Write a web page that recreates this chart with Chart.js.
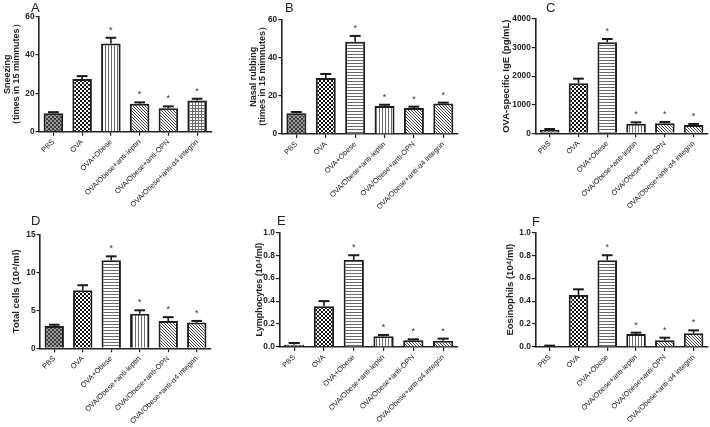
<!DOCTYPE html>
<html><head><meta charset="utf-8">
<script src="https://cdn.jsdelivr.net/npm/chart.js@4/dist/chart.umd.min.js"></script>
<style>
html,body{margin:0;padding:0;background:#fff}
body{width:710px;height:427px;overflow:hidden;position:relative}
canvas{position:absolute;display:block}
.lbl{position:absolute;font:13px "Liberation Sans",Arial,sans-serif;color:#222;line-height:13px}
</style></head><body>
<canvas id="cA" width="235" height="213" style="left:0;top:0"></canvas>
<canvas id="cB" width="235" height="213" style="left:235px;top:0"></canvas>
<canvas id="cC" width="240" height="213" style="left:470px;top:0"></canvas>
<canvas id="cD" width="235" height="214" style="left:0;top:213px"></canvas>
<canvas id="cE" width="235" height="214" style="left:235px;top:213px"></canvas>
<canvas id="cF" width="240" height="214" style="left:470px;top:213px"></canvas>
<div class="lbl" style="left:31px;top:1px">A</div>
<div class="lbl" style="left:285px;top:1px">B</div>
<div class="lbl" style="left:546px;top:1px">C</div>
<div class="lbl" style="left:31px;top:214px">D</div>
<div class="lbl" style="left:277px;top:214px">E</div>
<div class="lbl" style="left:532px;top:215px">F</div>
<script>
// ---- data ----
const categories = ["PBS","OVA","OVA+Obese","OVA/Obese+anti-leptin","OVA/Obese+anti-OPN","OVA/Obese+anti-\u03b14 integrin"];
const significant = [false,false,true,true,true,true];
const sneezing = [9.6,27.5,46.0,14.6,12.2,16.3];
const sneezingErr = [0.6,1.5,3.0,0.7,1.0,0.9];
const nasalRubbing = [10.8,29.3,48.3,14.7,13.6,15.9];
const nasalRubbingErr = [0.7,2.1,3.0,0.6,0.7,0.5];
const igE = [117,1749,3184,338,350,292];
const igEErr = [33,163,116,47,47,35];
const totalCells = [2.94,7.63,11.6,4.56,3.6,3.38];
const totalCellsErr = [0.16,0.67,0.5,0.44,0.5,0.22];
const lymphocytes = [0.02,0.355,0.76,0.093,0.058,0.055];
const lymphocytesErr = [0.015,0.045,0.04,0.012,0.009,0.018];
const eosinophils = [0.006,0.453,0.756,0.113,0.058,0.119];
const eosinophilsErr = [0.006,0.05,0.044,0.012,0.023,0.026];
const ticksAB = [0,20,40,60];
const ticksC = [0,1000,2000,3000,4000];
const ticksD = [0,5,10,15];
const ticksEF = [0,0.2,0.4,0.6,0.8,1.0];

// ---- patterns ----
function makePattern(size, draw){
  const c=document.createElement('canvas'); c.width=size; c.height=size;
  const g=c.getContext('2d'); g.fillStyle='#fff'; g.fillRect(0,0,size,size); draw(g,size);
  return document.createElement('canvas').getContext('2d').createPattern(c,'repeat');
}
const P = {
  fine: makePattern(4,(g)=>{g.fillStyle='#9a9a9a';g.fillRect(0,0,4,4);g.fillStyle='#3c3c3c';g.fillRect(0,0,2,2);g.fillRect(2,2,2,2);}),
  check: makePattern(4,(g)=>{g.fillStyle='#111';g.fillRect(0,0,2,2);g.fillRect(2,2,2,2);}),
  vert: makePattern(3,(g)=>{g.fillStyle='#6a6a6a';g.fillRect(0,0,1,3);}),
  horiz: makePattern(3,(g)=>{g.fillStyle='#6a6a6a';g.fillRect(0,0,3,1);}),
  diag: makePattern(3,(g)=>{g.fillStyle='#444';for(let i=0;i<3;i++)g.fillRect(i,i,1,1);}),
  grid: makePattern(3,(g)=>{g.fillStyle='#6a6a6a';g.fillRect(0,0,3,1);g.fillRect(0,0,1,3);})
};

// ---- error bars + asterisks ----
const errPlugin = {
  id:'errs',
  afterDatasetsDraw(chart){
    const o = chart.options.plugins.errs; const ctx=chart.ctx; const ys=chart.scales.y;
    const meta=chart.getDatasetMeta(0);
    ctx.save();
    meta.data.forEach((bar,i)=>{
      const v=o.values[i], e=o.errs[i];
      const yb=ys.getPixelForValue(v), yt=ys.getPixelForValue(v+e);
      const w=bar.width*0.55;
      ctx.strokeStyle='#1a1a1a'; ctx.lineWidth=1.6;
      ctx.beginPath(); ctx.moveTo(bar.x,yb); ctx.lineTo(bar.x,yt); ctx.stroke();
      ctx.lineWidth=2;
      ctx.beginPath(); ctx.moveTo(bar.x-w/2,yt); ctx.lineTo(bar.x+w/2,yt); ctx.stroke();
      if(o.sig[i]){
        ctx.fillStyle='#333'; ctx.font='9px "Liberation Sans", Arial, sans-serif';
        ctx.textAlign='center'; ctx.textBaseline='alphabetic';
        ctx.fillText('*', bar.x, yt-5);
      }
    });
    ctx.restore();
  }
};

const FONT = '"Liberation Sans", Arial, sans-serif';
function makeChart(id, vals, errs, pats, ticks, title, geo, fmt){
  const cv=document.getElementById(id); const W=cv.width, H=cv.height;
  const tmax=ticks[ticks.length-1];
  const lh=9, ts=geo.ts||9.5;
  return new Chart(cv,{
    type:'bar',
    data:{labels:categories,datasets:[{data:vals,backgroundColor:pats,borderColor:'#1e1e1e',borderWidth:2,
      borderSkipped:'bottom',categoryPercentage:1,barPercentage:0.68}]},
    options:{
      responsive:false,animation:false,devicePixelRatio:1,
      layout:{padding:{left:0,top:geo.top,right:W-geo.right,bottom:0}},
      plugins:{legend:{display:false},tooltip:{enabled:false},
        errs:{values:vals,errs:errs,sig:significant}},
      scales:{
        x:{grid:{display:true,offset:false,drawOnChartArea:false,drawTicks:true,tickLength:4,color:'#222',lineWidth:1.2},
           border:{display:true,color:'#222',width:1.6},
           ticks:{autoSkip:false,minRotation:45,maxRotation:45,padding:2,color:'#222',font:{family:FONT,size:7.4,weight:'normal'}},
           afterFit:(s)=>{s.height=H-geo.bottom;}},
        y:{min:0,max:tmax,
           afterBuildTicks:(s)=>{s.ticks=ticks.map(v=>({value:v}));},
           grid:{display:true,drawOnChartArea:false,drawTicks:true,tickLength:3.5,color:'#222',lineWidth:1.2},
           border:{display:true,color:'#222',width:1.6},
           ticks:{padding:1,color:'#222',font:{family:FONT,size:8.3,weight:'bold'},callback:(v)=>fmt?Number(v).toFixed(1):String(v)},
           title:{display:true,text:title,color:'#222',padding:{top:geo.tc-lh/2,bottom:0},font:{family:FONT,size:ts,weight:'bold',lineHeight:lh/ts}},
           afterFit:(s)=>{s.width=geo.left;}}
      }
    },
    plugins:[errPlugin]
  });
}
makeChart('cA',sneezing,sneezingErr,[P.fine,P.check,P.vert,P.diag,P.diag,P.grid],ticksAB,
  ['Sneezing','\uff08times in 15 mimnutes\uff09'],{left:39,right:211.5,top:16.7,bottom:131.7,tc:8,ts:9});
makeChart('cB',nasalRubbing,nasalRubbingErr,[P.fine,P.check,P.horiz,P.vert,P.diag,P.diag],ticksAB,
  ['Nasal rubbing','\uff08times in 15 mimnutes\uff09'],{left:46.7,right:223,top:19.3,bottom:134,tc:19,ts:9});
makeChart('cC',igE,igEErr,[P.fine,P.check,P.horiz,P.vert,P.diag,P.diag],ticksC,
  'OVA-specific IgE (pg/mL)',{left:65.3,right:238,top:19,bottom:133.3,tc:36});
makeChart('cD',totalCells,totalCellsErr,[P.fine,P.check,P.horiz,P.vert,P.diag,P.diag],ticksD,
  'Total cells (10\u2074/ml)',{left:40,right:211,top:21.3,bottom:135.3,tc:16});
makeChart('cE',lymphocytes,lymphocytesErr,[P.fine,P.check,P.horiz,P.vert,P.diag,P.diag],ticksEF,
  'Lymphocytes (10\u2074/ml)',{left:44.3,right:223,top:19.3,bottom:134,tc:25,ts:9},true);
makeChart('cF',eosinophils,eosinophilsErr,[P.fine,P.check,P.horiz,P.vert,P.diag,P.diag],ticksEF,
  'Eosinophils (10\u2074/ml)',{left:65.3,right:238,top:19.3,bottom:134,tc:40},true);
</script>
</body></html>
